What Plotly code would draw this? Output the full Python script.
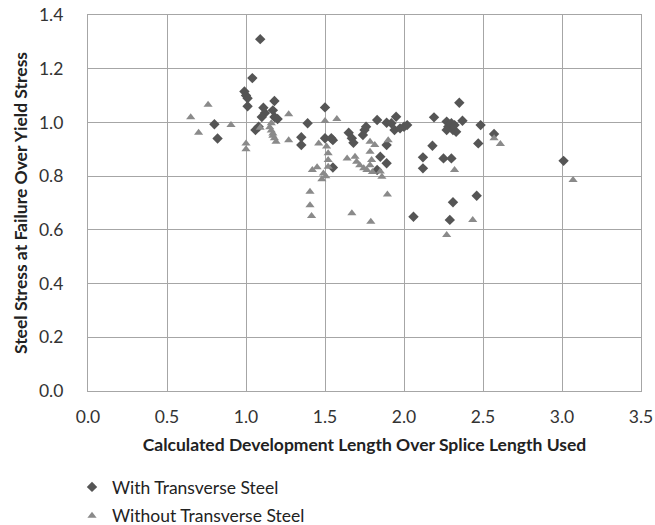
import plotly.graph_objects as go

with_x = [1.09, 1.04, 0.99, 1.00, 1.01, 1.01, 0.80, 0.82, 1.18, 1.11, 1.12, 1.10, 1.17, 1.18, 1.20,
          1.06, 1.08, 1.39, 1.35, 1.35, 1.50, 1.50, 1.54, 1.55, 1.55, 1.65, 1.67, 1.68, 1.74, 1.75,
          1.76, 1.83, 1.89, 1.92, 1.95, 1.94, 1.975, 2.00, 2.02, 1.85, 1.89, 1.89, 1.83, 2.06,
          2.19, 2.35, 2.27, 2.28, 2.30, 2.31, 2.33, 2.27, 2.32, 2.37, 2.485, 2.47, 2.18, 2.12,
          2.12, 2.25, 2.30, 2.31, 2.46, 2.29, 2.57, 3.01]
with_y = [1.31, 1.165, 1.115, 1.10, 1.09, 1.06, 0.993, 0.94, 1.08, 1.055, 1.035, 1.02, 1.045, 1.02, 1.013,
          0.972, 0.984, 0.997, 0.945, 0.916, 1.056, 0.941, 0.941, 0.934, 0.832, 0.962, 0.941, 0.924, 0.953, 0.972,
          0.984, 1.009, 0.999, 0.997, 1.021, 0.972, 0.978, 0.984, 0.99, 0.872, 0.848, 0.916, 0.823, 0.649,
          1.019, 1.073, 1.003, 0.984, 0.997, 0.972, 0.965, 0.972, 0.99, 1.006, 0.99, 0.922, 0.913, 0.87,
          0.829, 0.866, 0.866, 0.703, 0.727, 0.637, 0.957, 0.857]

without_x = [0.76, 0.65, 0.905, 0.70, 1.00, 1.00, 1.27, 1.09, 1.15, 1.17, 1.18, 1.16, 1.16, 1.17,
             1.19, 1.27, 1.46, 1.50, 1.575, 1.51, 1.52, 1.52, 1.52, 1.505, 1.42, 1.45, 1.48, 1.49,
             1.405, 1.405, 1.415, 1.64, 1.69, 1.70, 1.72, 1.745, 1.765, 1.785, 1.815, 1.785, 1.795,
             1.785, 1.80, 1.90, 1.85, 1.86, 1.895, 1.67, 1.79, 2.32, 2.435, 2.27, 2.57, 2.61, 3.07]
without_y = [1.066, 1.019, 0.99, 0.962, 0.922, 0.90, 1.03, 0.98, 0.982, 0.959, 0.941, 0.997, 0.97, 0.95,
             0.928, 0.934, 0.922, 1.005, 1.013, 0.91, 0.885, 0.86, 0.835, 0.80, 0.823, 0.833, 0.788, 0.81,
             0.742, 0.692, 0.652, 0.866, 0.872, 0.854, 0.841, 0.829, 0.823, 0.928, 0.916, 0.891, 0.86,
             0.841, 0.815, 0.934, 0.817, 0.798, 0.732, 0.662, 0.63, 0.823, 0.637, 0.581, 0.941, 0.92, 0.786]

font = "Lato, Open Sans, sans-serif"
fs = 17.5

fig = go.Figure()
fig.add_trace(go.Scatter(x=with_x, y=with_y, mode="markers", name="With Transverse Steel",
                         legendgroup="a",
                         marker=dict(symbol="diamond", size=8, color="#555555")))
fig.add_trace(go.Scatter(x=without_x, y=without_y, mode="markers", name="Without Transverse Steel",
                         legendgroup="b",
                         marker=dict(symbol="triangle-up", size=8, color="#8a8a8a")))

axis_common = dict(showgrid=True, gridcolor="#a6a6a6", gridwidth=1.3,
                   showline=True, linecolor="#a6a6a6", linewidth=1.3, mirror=True,
                   zeroline=False, automargin=False,
                   tickfont=dict(family=font, size=fs, color="#333333"))

plot_l, plot_t, plot_w, plot_h = 88, 15, 553, 376

fig.update_layout(
    width=655, height=525,
    margin=dict(l=plot_l, r=655 - plot_l - plot_w, t=plot_t, b=525 - plot_t - plot_h, autoexpand=False),
    paper_bgcolor="white", plot_bgcolor="white",
    font=dict(family=font, size=fs, color="#222222"),
    xaxis=dict(range=[0, 3.5], dtick=0.5, tick0=0, tickformat=".1f",
               ticks="outside", ticklen=10, tickcolor="rgba(0,0,0,0)",
               title=dict(text="<b>Calculated Development Length Over Splice Length Used</b>",
                          font=dict(family=font, size=fs, color="#222222"), standoff=12),
               **axis_common),
    yaxis=dict(range=[0, 1.4], dtick=0.2, tick0=0, tickformat=".1f",
               ticks="outside", ticklen=20, tickcolor="rgba(0,0,0,0)",
               title=dict(text="<b>Steel Stress at Failure Over Yield Stress</b>",
                          font=dict(family=font, size=fs, color="#222222"), standoff=6),
               **axis_common),
    legend=dict(x=(72 - plot_l) / plot_w, y=(plot_t + plot_h - 469) / plot_h,
                xanchor="left", yanchor="top", orientation="v",
                tracegroupgap=3, font=dict(family=font, size=fs, color="#222222"),
                bgcolor="rgba(0,0,0,0)"),
    showlegend=True,
)

fig.write_html("out.html", config={"displayModeBar": False},
               post_script="document.body.style.margin='0';")
